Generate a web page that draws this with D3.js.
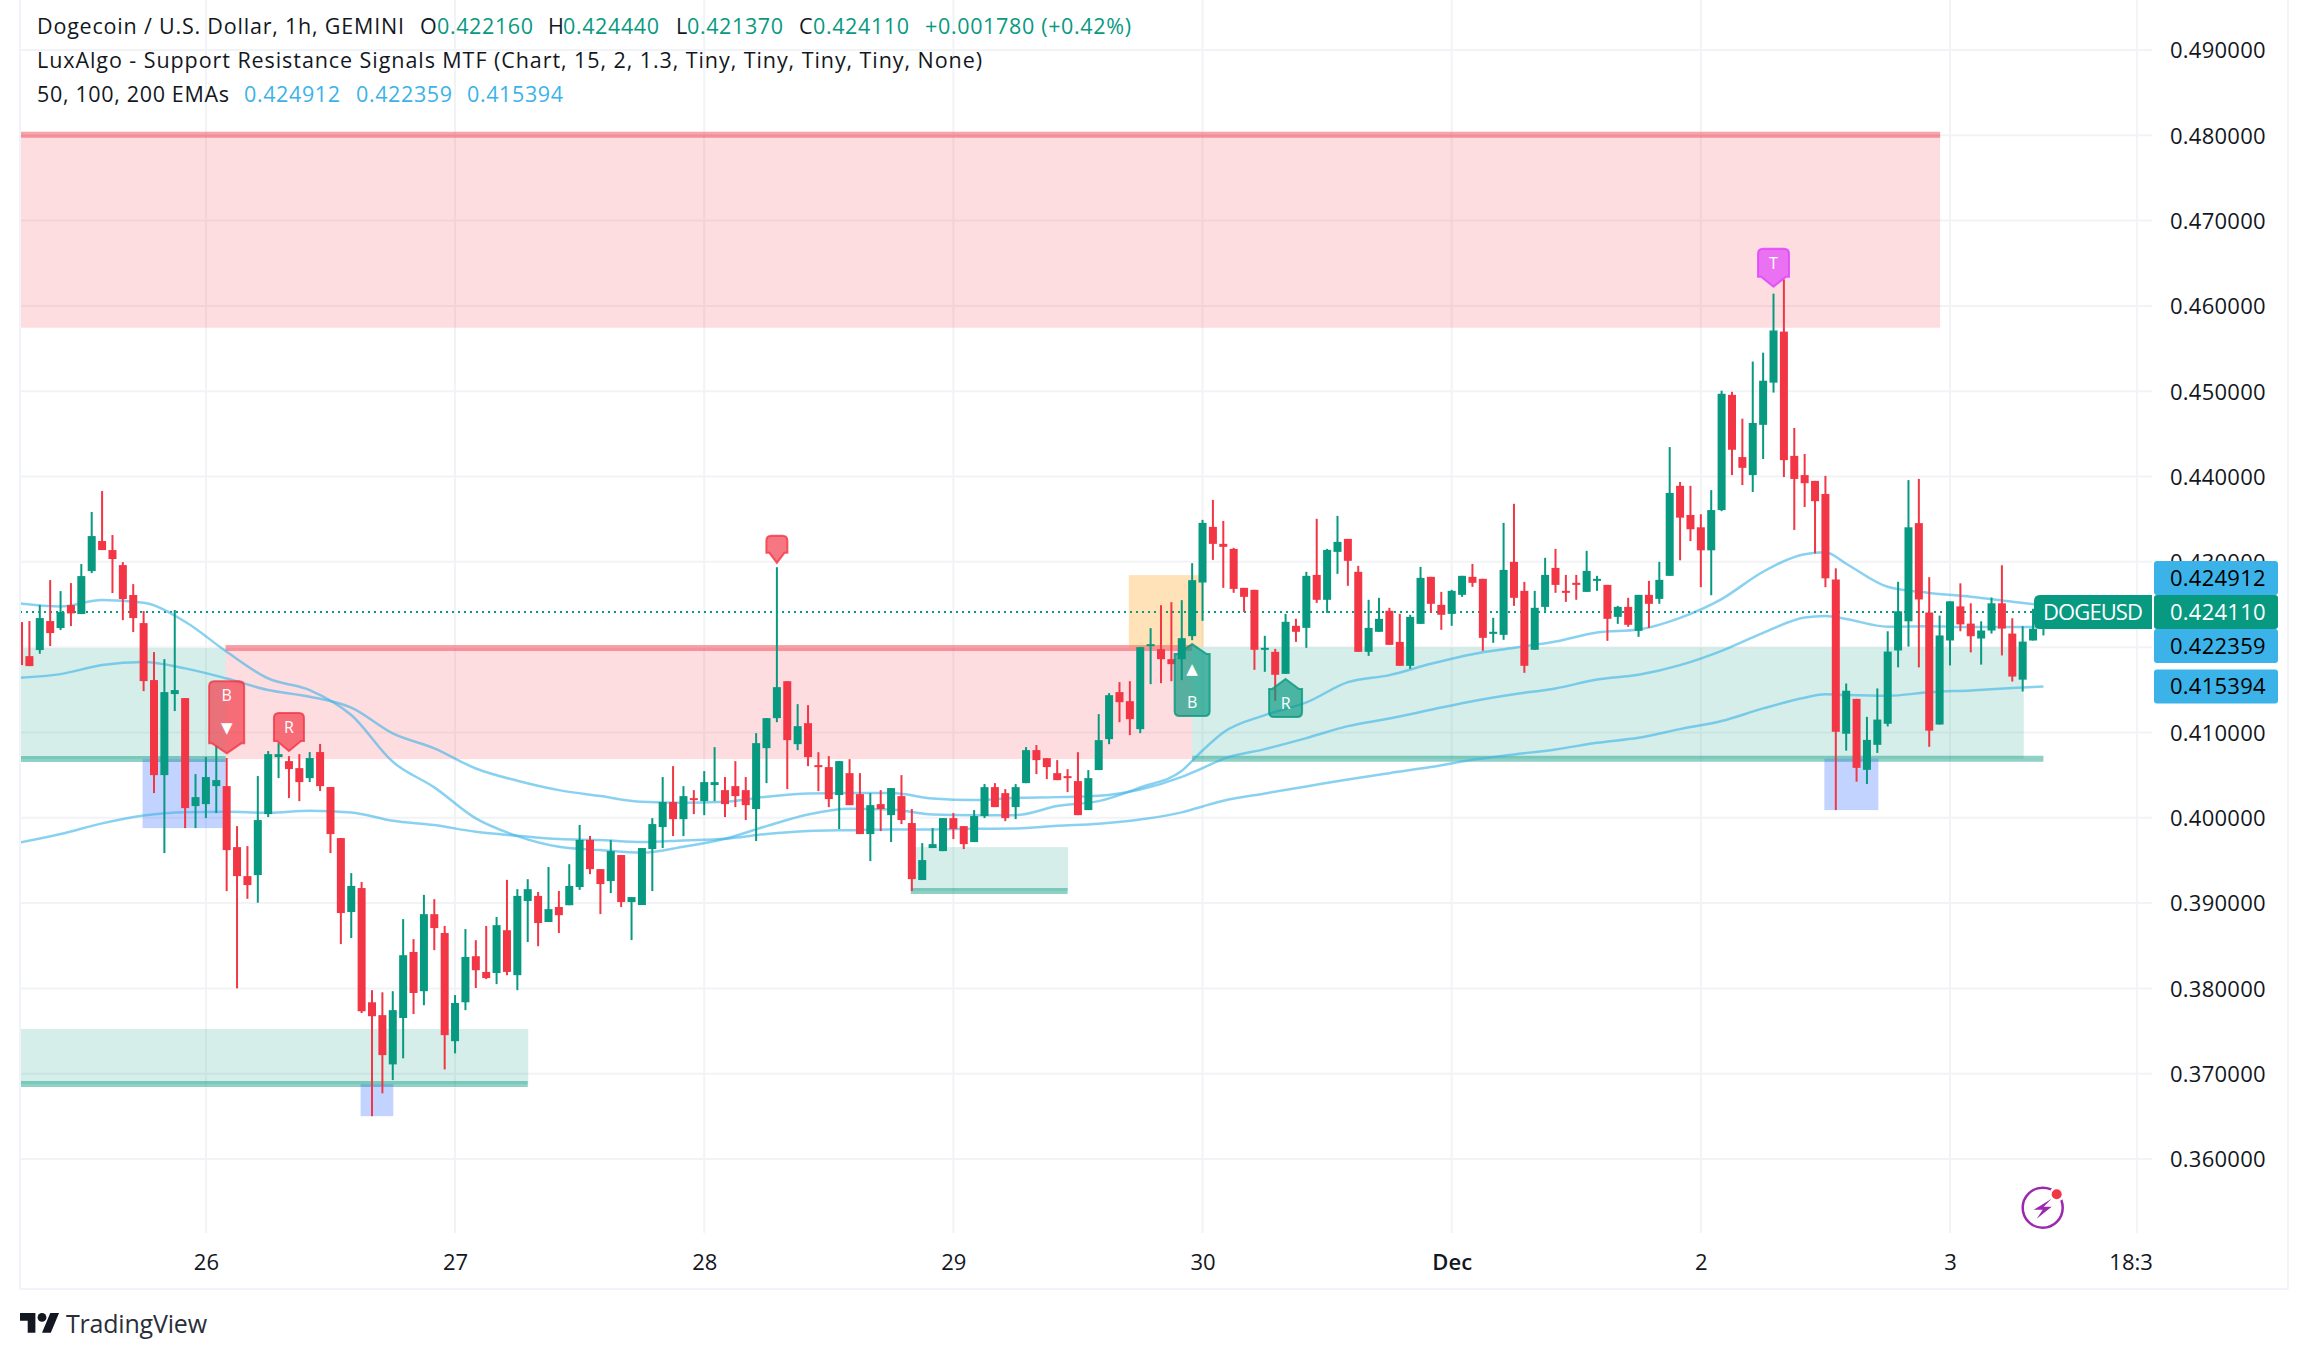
<!DOCTYPE html>
<html>
<head>
<meta charset="utf-8">
<title>DOGEUSD 1h</title>
<script src="https://cdn.jsdelivr.net/npm/d3@7"></script>
<style>
    body { margin: 0; background: #fff; }
    svg { display: block; font-family: "Open Sans", sans-serif; fill: #131722; }
    .axis text { font-size: 22px; fill: #131722; font-family: "Open Sans", sans-serif; }
    .tag text { fill: #fff; text-anchor: middle; dominant-baseline: central; }
</style>
</head>
<body>
<svg id="chart" width="2308" height="1359"></svg>
<script>
// hours counted from Nov 26 00:00, first candle is hour -18
var firstHour = -18;
var opens = [
    .42294,.41895,.41966,.42306,.42224,.42493,.42388,.42892,.43244,.43138,.42962,.42611,.42282,.41614,.40500,.41450,.41403,.40137,
    .40160,.40371,.40371,.39656,.39316,.39328,.40043,.40711,.40664,.40582,.40465,.40770,.40360,.39762,.38895,.39176,.37837,.37686,.37109,.37653,.38427,.37967,.38870,.38649,
    .37381,.37837,.38377,.38193,.38180,.38682,.38155,.39025,.39084,.38778,.38954,.38975,.39188,.39741,.39398,.39258,.39563,.39012,.38977,.39633,.39891,.40184,.39984,.40230,
    .40195,.40383,.40324,.40371,.40324,.40102,.40816,.41168,.41601,.40863,.41109,.40617,.40594,.40266,.40523,.40277,.39809,.40160,.40031,.40254,.39938,.39270,.39645,.39609,
    .39996,.39902,.39715,.40020,.40359,.40289,.40125,.40406,.40793,.40699,.40523,.40488,.40430,.40090,.40559,.40922,.41473,.41367,.41039,.42012,.41976,.41859,.41859,.42129,
    .42758,.43410,.43211,.43152,.42695,.42672,.41969,.41945,.41687,.42250,.42226,.42847,.42555,.43117,.43269,.42883,.41945,.42180,.42426,.42062,.41781,.42273,.42824,.42496,
    .42390,.42613,.42824,.42801,.42156,.42144,.43000,.42660,.41969,.42472,.42929,.42660,.42754,.42648,.42777,.42730,.42355,.42472,.42191,.42613,.42566,.42836,.43891,.43549,
    .43405,.43135,.43607,.44957,.44228,.44017,.44606,.45101,.45699,.44242,.44017,.43949,.43796,.42793,.40985,.41394,.40562,.40855,.41102,.41961,.42303,.43454,.42406,.41093,
    .42078,.42478,.42276,.42101,.42195,.42514,.42159,.41619,.42078,.42216
];
var highs = [
    .42294,.42306,.42493,.42786,.42657,.42751,.42974,.43584,.43830,.43314,.42997,.42739,.42423,.41942,.41860,.42435,.41403,.40512,
    .40711,.40840,.40700,.39902,.39668,.40489,.40782,.40875,.40723,.40746,.40770,.40864,.40360,.39762,.39351,.39247,.37979,.37954,.37967,.38812,.38577,.39096,.39046,.38732,
    .37921,.38695,.38565,.38732,.38837,.39272,.39163,.39280,.39130,.39423,.39142,.39456,.39916,.39787,.39398,.39738,.39563,.39070,.39645,.39996,.40477,.40605,.40371,.40324,
    .40547,.40828,.40477,.40664,.40477,.40992,.41168,.42937,.41601,.41332,.41320,.40769,.40723,.40664,.40687,.40523,.40289,.40324,.40348,.40500,.40102,.39703,.39879,.39996,
    .40055,.39902,.40090,.40395,.40406,.40336,.40395,.40828,.40852,.40699,.40676,.40570,.40769,.40559,.41215,.41461,.41590,.41601,.42000,.42223,.42492,.42527,.42551,.42984,
    .43492,.43726,.43480,.43164,.42695,.42672,.42133,.41980,.42390,.42332,.42883,.43504,.43152,.43539,.43269,.42953,.42555,.42578,.42461,.42390,.42379,.42941,.42824,.42648,
    .42672,.42836,.42976,.42801,.42344,.43457,.43680,.42765,.42660,.43047,.43152,.42847,.42847,.43129,.42836,.42730,.42484,.42578,.42613,.42777,.43000,.44345,.43936,.43891,
    .43558,.43841,.45006,.44993,.44678,.45348,.45452,.46144,.46311,.44570,.44264,.43949,.44008,.42924,.41574,.41394,.41183,.41516,.42186,.42766,.43958,.43972,.42820,.42370,
    .42537,.42748,.42514,.42303,.42582,.42960,.42339,.42245,.42450,.42444
];
var lows = [
    .41790,.41778,.41923,.42013,.42200,.42247,.42388,.42868,.43138,.42634,.42317,.42177,.41485,.40289,.39586,.41251,.39879,.39879,
    .39996,.40055,.39140,.38000,.39050,.39004,.40008,.40465,.40231,.40195,.40418,.40313,.39586,.38519,.38590,.37711,.36502,.36770,.36925,.37180,.37699,.37803,.38448,.37050,
    .37239,.37745,.38004,.38109,.38050,.38155,.37979,.38544,.38494,.38778,.38649,.38975,.39155,.39339,.38871,.39117,.38953,.38566,.38977,.39141,.39645,.39785,.39785,.40043,
    .40031,.40195,.40008,.40125,.39973,.39727,.40406,.41121,.40336,.40793,.40605,.40312,.40125,.39867,.40148,.39809,.39492,.39844,.39715,.39926,.39141,.39270,.39645,.39609,
    .39750,.39633,.39715,.39996,.40125,.39961,.39984,.40406,.40512,.40453,.40441,.40301,.40031,.40090,.40559,.40863,.41121,.40969,.40992,.41566,.41578,.41601,.41613,.42082,
    .42308,.43023,.42695,.42637,.42414,.41734,.41711,.41371,.41687,.42062,.41992,.42519,.42402,.42859,.42719,.41945,.41898,.42180,.42027,.41781,.41746,.42273,.42402,.42203,
    .42250,.42590,.42707,.41957,.42051,.42086,.42484,.41699,.41969,.42426,.42637,.42531,.42555,.42648,.42660,.42074,.42273,.42238,.42121,.42226,.42508,.42836,.43018,.43243,
    .42703,.42609,.43594,.44017,.43900,.43819,.44206,.44984,.43994,.43374,.43643,.43099,.42703,.40090,.40787,.40423,.40396,.40760,.41071,.41763,.42006,.41763,.40832,.41093,
    .41786,.42186,.41939,.41795,.42159,.41903,.41597,.41480,.42078,.42137
];
var closes = [
    .41790,.41778,.42341,.42165,.42411,.42396,.42833,.43302,.43138,.43033,.42564,.42341,.41602,.40500,.41473,.41497,.40113,.40242,
    .40477,.40442,.39621,.39316,.39211,.39973,.40746,.40746,.40571,.40418,.40700,.40371,.39809,.38883,.39201,.37732,.37674,.37218,.37745,.38389,.37946,.38870,.38707,.37452,
    .37829,.38368,.38213,.38121,.38741,.38193,.39084,.39163,.38766,.38929,.38858,.39201,.39741,.39398,.39223,.39609,.39012,.39070,.39645,.39926,.40184,.39984,.40254,.40207,
    .40418,.40418,.40160,.40254,.40148,.40875,.41168,.41531,.40910,.41074,.40711,.40594,.40219,.40664,.40148,.39809,.40148,.40102,.40348,.39973,.39281,.39504,.39691,.39996,
    .39867,.39691,.40020,.40359,.40125,.39996,.40359,.40793,.40676,.40594,.40441,.40465,.40031,.40465,.40910,.41437,.41355,.41156,.42000,.42035,.41859,.41801,.42105,.42785,
    .43457,.43211,.43176,.42683,.42590,.41969,.41992,.41676,.42297,.42180,.42836,.42555,.43140,.43234,.43012,.41945,.42226,.42332,.42027,.41781,.42355,.42812,.42508,.42379,
    .42660,.42836,.42754,.42109,.42180,.42906,.42578,.41781,.42461,.42847,.42730,.42637,.42730,.42894,.42801,.42332,.42472,.42262,.42613,.42508,.42789,.43808,.43518,.43382,
    .43135,.43607,.44970,.44314,.44102,.44628,.45123,.45712,.44192,.43972,.43922,.43711,.42807,.41008,.41489,.40585,.40913,.41151,.41948,.42420,.43405,.42559,.41021,.42137,
    .42537,.42267,.42128,.42195,.42514,.42218,.41655,.42065,.42216,.42411
];

var emaHours = [-18,-14,-10,-6,-2,2,6,10,14,18,22,26,30,34,38,42,46,50,54,58,62,66,70,74,78,82,86,90,94,96,98,102,106,110,114,118,122,126,130,134,138,142,146,150,154,156,158,162,166,170,174,177];
var ema50 = [.42513,.42477,.42552,.42520,.42298,.41946,.41633,.41497,.41204,.40656,.40356,.39992,.39785,.39660,.39621,.39590,.39660,.39754,.39902,.40039,.40105,.40098,.40039,.40031,.40031,.40137,.40195,.40355,.40551,.40789,.41000,.41203,.41352,.41590,.41672,.41805,.41918,.41992,.42066,.42172,.42207,.42344,.42564,.42884,.43090,.43113,.42978,.42708,.42636,.42591,.42533,.424912];
var ema100 = [.41641,.41684,.41790,.41825,.41751,.41633,.41497,.41419,.41290,.40989,.40813,.40578,.40434,.40324,.40254,.40188,.40176,.40188,.40246,.40285,.40289,.40289,.40227,.40207,.40234,.40242,.40258,.40332,.40480,.40582,.40691,.40805,.40934,.41074,.41164,.41266,.41367,.41449,.41516,.41621,.41676,.41789,.41957,.42168,.42348,.42366,.42330,.42240,.42245,.42236,.42236,.422359];
var ema200 = [.39707,.39809,.39934,.40027,.40066,.40070,.40059,.40082,.40063,.39965,.39914,.39836,.39789,.39750,.39738,.39715,.39734,.39754,.39809,.39844,.39855,.39863,.39863,.39871,.39875,.39906,.39930,.39980,.40063,.40133,.40199,.40285,.40367,.40449,.40523,.40594,.40680,.40742,.40801,.40879,.40938,.41039,.41134,.41282,.41408,.41448,.41439,.41430,.41471,.41493,.41520,.415394];

// zones: fill between zoneNear (thick line) and zoneFar
var zoneKinds = ["res","sup","res","sup","sup","sup"];
var zoneStart = [-19,-19,1.9,-19,67.9,95];
var zoneFillEnd = [167.05,1.9,95,31.05,83.05,175.1];
var zoneLineEnd = [167.05,1.9,95,31,83,177];
var zoneNear = [.48006,.40688,.41989,.36878,.39141,.40693];
var zoneFar = [.45744,.41989,.40688,.37524,.39656,.41997];

var blueStart = [-6.1,14.9,155.9];
var blueEnd = [1.9,18.05,161.1];
var blueTop = [.40688,.36878,.40693];
var blueBottom = [.39879,.36502,.40090];
var orangeStart = [88.9];
var orangeEnd = [96.1];
var orangeTop = [.42844];
var orangeBottom = [.41999];

var tagHours = [2,8,55,95,104,151];
var tagPrices = [.40755,.40782,.42989,.42036,.41626,.46225];
var tagTexts = ["B","R","","B","R","T"];
var tagKinds = ["sell","sell","sell","buy","buy","top"];
var tagArrows = [true,false,false,true,false,false];

var priceTicks = [.36,.37,.38,.39,.40,.41,.42,.43,.44,.45,.46,.47,.48,.49];
var dayTicks = [0,24,48,72,96,120,144,168,186];
var dayLabels = ["26","27","28","29","30","Dec","2","3","18:30"];
var lastPrice = .42411;
var emaLast = [.424912,.422359,.415394];

var green = "#089981", red = "#F23645", emaBlue = "#3BB3E8", gridColor = "#F2F3F6", frameColor = "#F0F3FA";
var paneLeft = 20, paneRight = 2152, paneBottom = 1233;

var svg = d3.select("#chart");
var x = d3.scaleLinear().domain([0, 168]).range([205.9, 1950]);
var y = d3.scaleLinear().domain([.36, .49]).range([1159, 50]);

svg.append("defs").append("clipPath").attr("id", "pane")
    .append("rect").attr("x", paneLeft).attr("y", 0).attr("width", paneRight - paneLeft).attr("height", paneBottom);
svg.select("defs").append("clipPath").attr("id", "timeclip")
    .append("rect").attr("x", paneLeft).attr("y", paneBottom).attr("width", paneRight - paneLeft).attr("height", 56);

// grid
var grid = svg.append("g").attr("stroke", gridColor).attr("stroke-width", 2);
priceTicks.forEach(function (p) {
    grid.append("line").attr("x1", paneLeft).attr("x2", paneRight).attr("y1", y(p)).attr("y2", y(p));
});
dayTicks.forEach(function (h) {
    grid.append("line").attr("x1", x(h)).attr("x2", x(h)).attr("y1", 0).attr("y2", paneBottom);
});

var pane = svg.append("g").attr("clip-path", "url(#pane)");

// zones
zoneKinds.forEach(function (k, i) {
    var c = k == "res" ? red : green;
    pane.append("rect")
        .attr("x", x(zoneStart[i])).attr("width", x(zoneFillEnd[i]) - x(zoneStart[i]))
        .attr("y", y(Math.max(zoneNear[i], zoneFar[i])))
        .attr("height", Math.abs(y(zoneNear[i]) - y(zoneFar[i])))
        .attr("fill", c).attr("fill-opacity", .17);
    pane.append("line")
        .attr("x1", x(zoneStart[i])).attr("x2", x(zoneLineEnd[i]))
        .attr("y1", y(zoneNear[i])).attr("y2", y(zoneNear[i]))
        .attr("stroke", c).attr("stroke-opacity", .45).attr("stroke-width", 6);
});
blueStart.forEach(function (s, i) {
    pane.append("rect").attr("x", x(s)).attr("width", x(blueEnd[i]) - x(s))
        .attr("y", y(blueTop[i])).attr("height", y(blueBottom[i]) - y(blueTop[i]))
        .attr("fill", "#2962FF").attr("fill-opacity", .28);
});
orangeStart.forEach(function (s, i) {
    pane.append("rect").attr("x", x(s)).attr("width", x(orangeEnd[i]) - x(s))
        .attr("y", y(orangeTop[i])).attr("height", y(orangeBottom[i]) - y(orangeTop[i]))
        .attr("fill", "#FF9800").attr("fill-opacity", .28);
});

// last price dotted line
pane.append("line").attr("x1", paneLeft).attr("x2", paneRight)
    .attr("y1", y(lastPrice)).attr("y2", y(lastPrice))
    .attr("stroke", green).attr("stroke-width", 2).attr("stroke-dasharray", "2,4");

// ema lines
var emaLine = d3.line().x(function (d) { return x(d[0]); }).y(function (d) { return y(d[1]); }).curve(d3.curveMonotoneX);
[ema50, ema100, ema200].forEach(function (s) {
    pane.append("path")
        .datum(emaHours.map(function (h, i) { return [h, s[i]]; }))
        .attr("fill", "none").attr("stroke", emaBlue).attr("stroke-opacity", .6).attr("stroke-width", 2.5)
        .attr("d", emaLine);
});

// candles
opens.forEach(function (o, i) {
    var h = firstHour + i, c = closes[i], col = c >= o ? green : red;
    pane.append("rect").attr("x", x(h) - 1).attr("width", 2)
        .attr("y", y(highs[i])).attr("height", y(lows[i]) - y(highs[i])).attr("fill", col);
    pane.append("rect").attr("x", x(h) - 4).attr("width", 8)
        .attr("y", y(Math.max(o, c))).attr("height", Math.max(2, Math.abs(y(o) - y(c)))).attr("fill", col);
});

// signal tags
var tagStyle = {
    sell: { fill: red, w: 30 },
    buy: { fill: green, w: 33 },
    top: { fill: "#E040FB", w: 31 }
};
function tagPath(cx, tip, w, h, down) {
    var s = down ? -1 : 1, r = 5, hw = w / 2, shoulder = tip + s * 10, end = tip + s * h;
    var p = d3.path();
    p.moveTo(cx, tip);
    p.lineTo(cx + hw - 3, shoulder);
    p.lineTo(cx + hw, shoulder);
    p.lineTo(cx + hw, end - s * r);
    p.quadraticCurveTo(cx + hw, end, cx + hw - r, end);
    p.lineTo(cx - hw + r, end);
    p.quadraticCurveTo(cx - hw, end, cx - hw, end - s * r);
    p.lineTo(cx - hw, shoulder);
    p.lineTo(cx - hw + 3, shoulder);
    p.closePath();
    return p.toString();
}
tagHours.forEach(function (h, i) {
    var st = tagStyle[tagKinds[i]], down = tagKinds[i] != "buy", s = down ? -1 : 1;
    var cx = x(h), tip = y(tagPrices[i]), arrow = tagArrows[i];
    var tall = arrow ? 72 : (tagTexts[i] == "" ? 27 : 38);
    var wide = arrow ? 35 : (tagTexts[i] == "" ? 21 : st.w);
    var g = pane.append("g").attr("class", "tag");
    g.append("path").attr("d", tagPath(cx, tip, wide, tall, down))
        .attr("fill", st.fill).attr("fill-opacity", .68)
        .attr("stroke", st.fill).attr("stroke-opacity", .8).attr("stroke-width", 2);
    if (tagTexts[i]) {
        g.append("text").attr("x", cx).attr("y", tip + s * (tall - 14)).attr("font-size", 16).text(tagTexts[i]);
    }
    if (arrow) {
        g.append("text").attr("x", cx).attr("y", tip + s * 25).attr("font-size", 15)
            .attr("font-family", "'DejaVu Sans', sans-serif").text(down ? "\u25BC" : "\u25B2");
    }
});

// frame
var frame = svg.append("g").attr("stroke", frameColor).attr("stroke-width", 2);
frame.append("line").attr("x1", paneLeft).attr("x2", paneLeft).attr("y1", 0).attr("y2", 1289);
frame.append("line").attr("x1", 2288).attr("x2", 2288).attr("y1", 0).attr("y2", 1289);
frame.append("line").attr("x1", paneLeft).attr("x2", 2288).attr("y1", 1289).attr("y2", 1289);

// price axis
var yAxis = d3.axisRight(y).tickValues(priceTicks).tickSize(0).tickPadding(0)
    .tickFormat(function (d) { return d.toFixed(6); });
svg.append("g").attr("class", "axis").attr("transform", "translate(2170,0)").call(yAxis)
    .call(function (g) {
        g.select(".domain").remove();
        g.selectAll("text").attr("dy", ".36em").attr("letter-spacing", ".25");
    });

// time axis
var xAxis = d3.axisBottom(x).tickValues(dayTicks).tickSize(0).tickPadding(0)
    .tickFormat(function (d, i) { return dayLabels[i]; });
svg.append("g").attr("clip-path", "url(#timeclip)")
    .append("g").attr("class", "axis").attr("transform", "translate(0,1254)").call(xAxis)
    .call(function (g) {
        g.select(".domain").remove();
        g.selectAll(".tick text").filter(function (d, i) { return dayLabels[i] == "Dec"; }).attr("font-weight", 600);
    });

// price labels, pushed apart the way the platform stacks them
var labelH = 34, labelX = 2154, labelW = 124;
var lastY = y(lastPrice);
var above = emaLast.filter(function (v) { return v > lastPrice; }).sort(d3.ascending);
var below = emaLast.filter(function (v) { return v < lastPrice; }).sort(d3.descending);
function drawLabel(v, cy, fill, color) {
    svg.append("rect").attr("x", labelX).attr("y", cy - labelH / 2).attr("width", labelW).attr("height", labelH)
        .attr("rx", 3).attr("fill", fill);
    svg.append("text").attr("x", 2170).attr("y", cy).attr("dy", ".36em").attr("font-size", 22)
        .attr("letter-spacing", ".25").attr("fill", color).text(v.toFixed(6));
}
var prev = lastY;
above.forEach(function (v) {
    var cy = Math.min(y(v), prev - labelH);
    drawLabel(v, cy, emaBlue, "#000");
    prev = cy;
});
prev = lastY;
below.forEach(function (v) {
    var cy = Math.max(y(v), prev + labelH);
    drawLabel(v, cy, emaBlue, "#000");
    prev = cy;
});
drawLabel(lastPrice, lastY, green, "#fff");

// symbol label
svg.append("path").attr("fill", green)
    .attr("d", "M2152," + (lastY - 17) + "H2040q-6,0 -6,6V" + (lastY + 11) + "q0,6 6,6H2152Z");
svg.append("text").attr("x", 2043).attr("y", lastY).attr("dy", ".36em").attr("font-size", 22)
    .attr("textLength", 100).attr("fill", "#fff").text("DOGEUSD");

// legend
function legendLine(yPos, parts) {
    parts.forEach(function (p) {
        var t = svg.append("text").attr("x", p[0]).attr("y", yPos).attr("dy", ".36em")
            .attr("font-size", 21.5).attr("fill", p[2]).text(p[1]);
        if (p[3]) t.attr("textLength", p[3]);
    });
}
var ink = "#131722";
legendLine(26, [[37, "Dogecoin / U.S. Dollar, 1h, GEMINI", ink, 367], [420, "O", ink], [437, "0.422160", green, 96],
    [548, "H", ink], [563, "0.424440", green, 96], [676, "L", ink], [687, "0.421370", green, 96],
    [799, "C", ink], [813, "0.424110", green, 96], [925, "+0.001780 (+0.42%)", green, 206]]);
legendLine(60, [[37, "LuxAlgo - Support Resistance Signals MTF (Chart, 15, 2, 1.3, Tiny, Tiny, Tiny, Tiny, None)", ink, 945]]);
legendLine(94, [[37, "50, 100, 200 EMAs", ink, 192], [244, "0.424912", emaBlue, 96], [356, "0.422359", emaBlue, 96], [467, "0.415394", emaBlue, 96]]);

// logo
var logo = svg.append("g").attr("transform", "translate(20,1308.6) scale(1.1)").attr("fill", "#131722");
logo.append("path").attr("d", "M14 22H7V11H0V4h14v18zM28 22h-8l7.5-18h8L28 22z");
logo.append("circle").attr("cx", 20).attr("cy", 8).attr("r", 4);
svg.append("text").attr("x", 66).attr("y", 1333).attr("font-size", 25).attr("textLength", 141)
    .attr("fill", "#2A2E39").text("TradingView");

// lightning badge
var badge = svg.append("g").attr("transform", "translate(2042.7,1207.7)");
badge.append("circle").attr("r", 20).attr("fill", "none").attr("stroke", "#9C27B0").attr("stroke-width", 2.5);
badge.append("path").attr("d", "M9,-9L-9,2H0L-6,11L9,-1H1Z").attr("fill", "#9C27B0");
badge.append("circle").attr("cx", 14).attr("cy", -13.4).attr("r", 7.5).attr("fill", "#fff");
badge.append("circle").attr("cx", 14).attr("cy", -13.4).attr("r", 5).attr("fill", red);
</script>
</body>
</html>
